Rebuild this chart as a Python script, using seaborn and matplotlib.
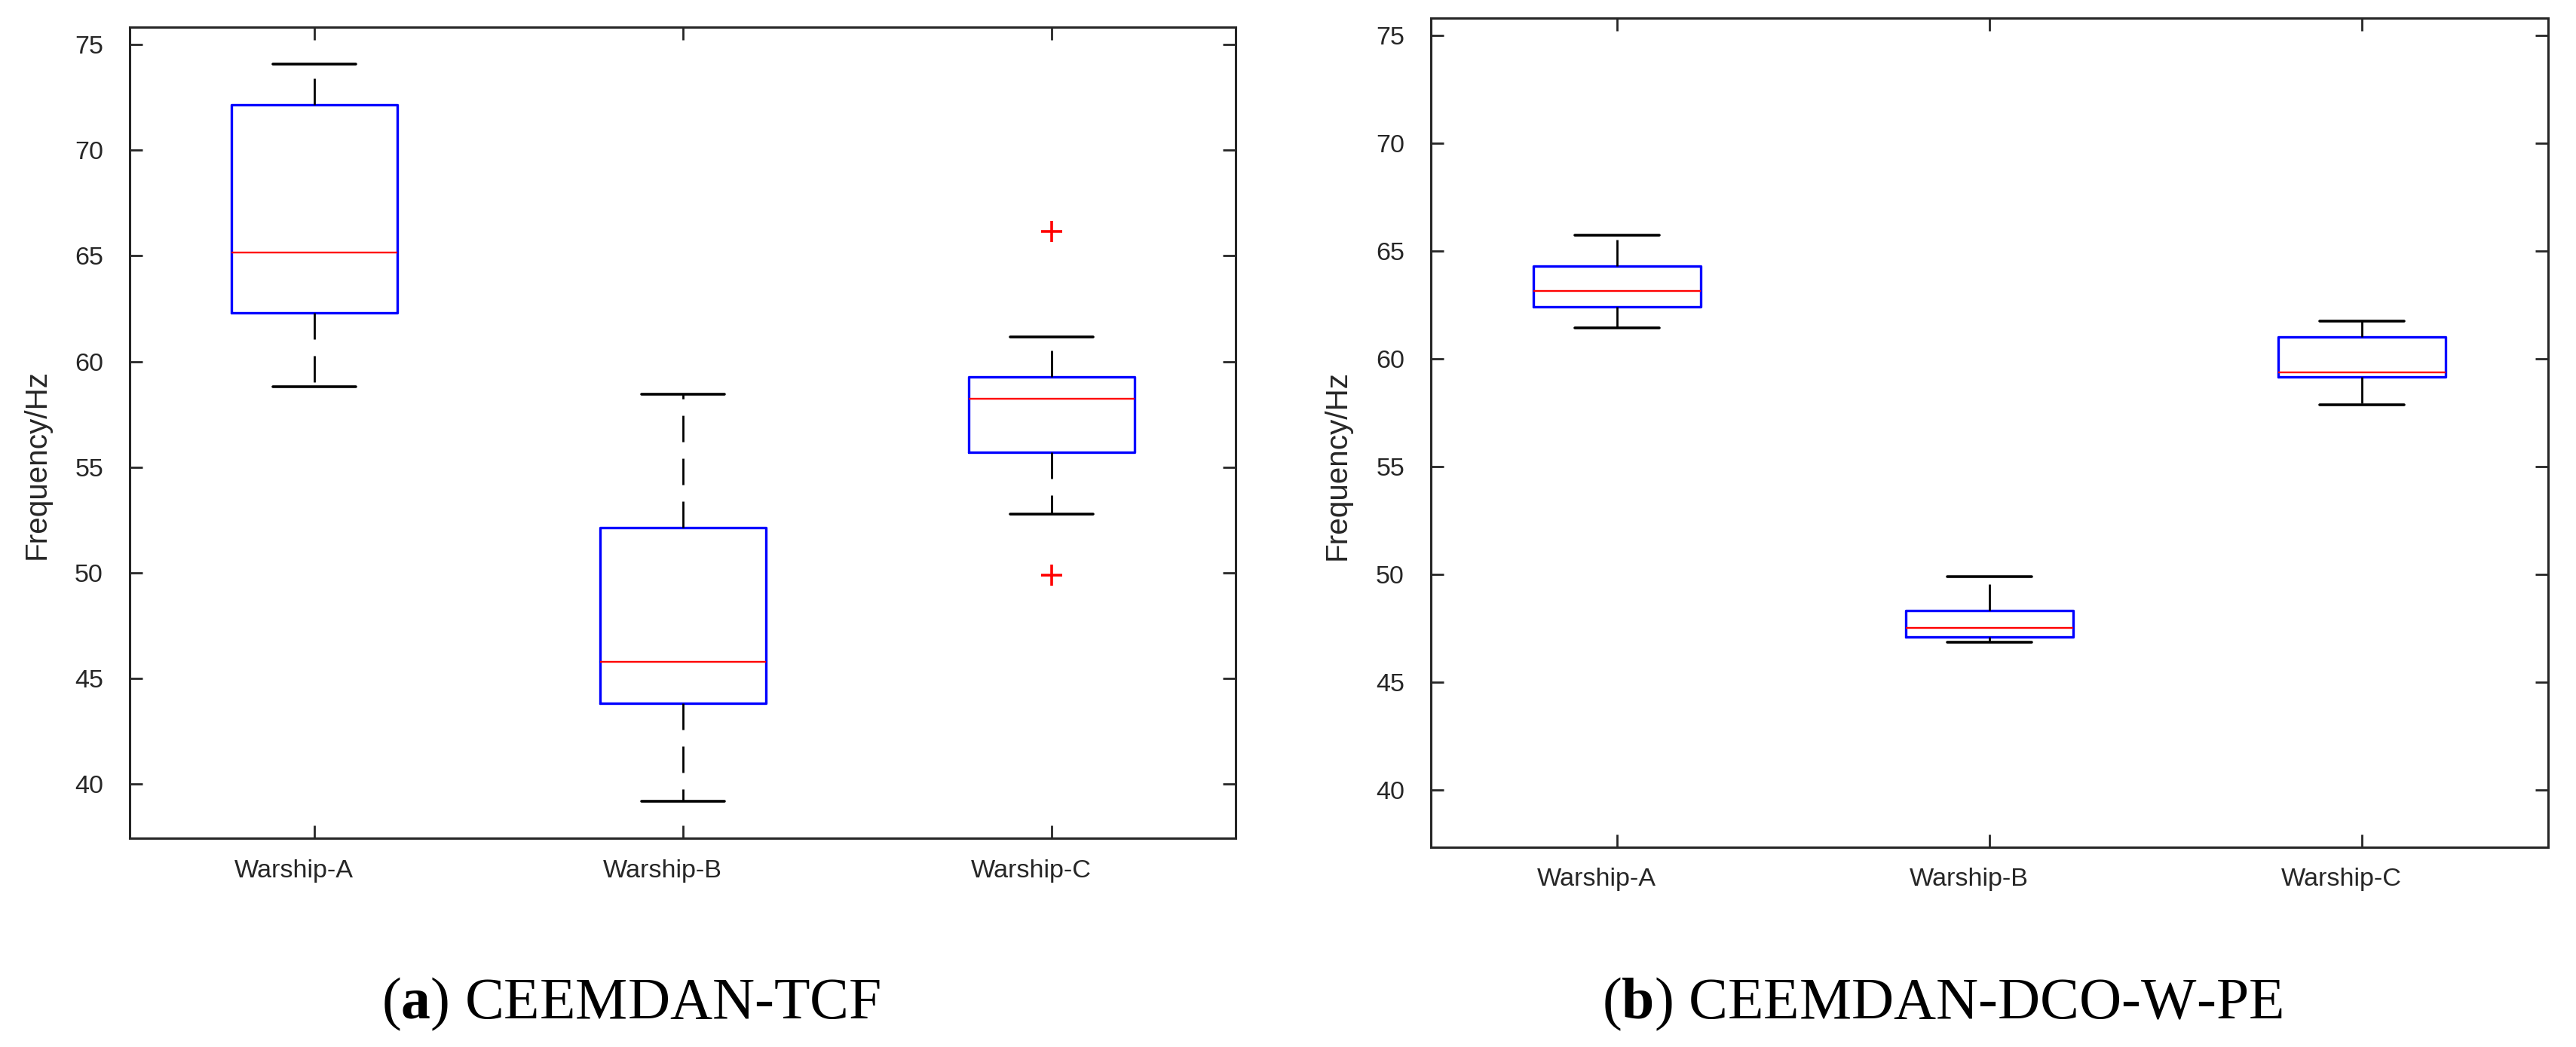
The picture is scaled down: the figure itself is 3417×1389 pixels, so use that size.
import numpy as np
import pandas as pd
import seaborn as sns
import matplotlib.pyplot as plt
from matplotlib.transforms import ScaledTranslation


# Categories
ships = ['Warship-A', 'Warship-B', 'Warship-C']

# (a) CEEMDAN-TCF - values (min, q1, median, q3, max + outliers)
tcf_a = [58.82, 62.30, 65.17, 72.15, 74.08]
tcf_b = [39.21, 43.82, 45.78, 52.15, 58.45]
tcf_c = [49.91, 52.78, 55.71, 57.00, 58.24, 58.80, 59.29, 61.15, 66.14]

# (b) CEEMDAN-DCO-W-PE
dco_a = [61.43, 62.43, 63.15, 64.32, 65.73]
dco_b = [46.84, 47.09, 47.53, 48.32, 49.88]
dco_c = [57.87, 59.15, 59.38, 61.02, 61.76]

yticks = [40, 45, 50, 55, 60, 65, 70, 75]
captions = [r'($\mathbf{a}$) CEEMDAN-TCF', r'($\mathbf{b}$) CEEMDAN-DCO-W-PE']


def to_long(a, b, c):
    return pd.DataFrame({'ship': [ships[0]] * len(a) + [ships[1]] * len(b) + [ships[2]] * len(c),
                         'freq': a + b + c})


sns.set_style('white')
plt.rcParams['font.family'] = ['Liberation Sans', 'DejaVu Sans']
plt.rcParams['lines.scale_dashes'] = False
plt.rcParams['mathtext.fontset'] = 'custom'
plt.rcParams['mathtext.rm'] = 'Liberation Serif'
plt.rcParams['mathtext.bf'] = 'Liberation Serif:bold'

DPI = 200
fig = plt.figure(figsize=(3417 / DPI, 1389 / DPI), dpi=DPI)
ax1 = fig.add_axes([0.05034, 0.19942, 0.42941, 0.77487])
ax2 = fig.add_axes([0.55546, 0.19100, 0.43371, 0.79172])

panels = [(ax1, to_long(tcf_a, tcf_b, tcf_c), (37.45, 75.83), (-0.0709, 0.461)),
          (ax2, to_long(dco_a, dco_b, dco_c), (37.35, 75.81), (-0.0711, 0.461))]

shift = ScaledTranslation(-27 / DPI, 0, fig.dpi_scale_trans)

for ax, df, ylim, lblpos in panels:
    sns.boxplot(data=df, x='ship', y='freq', order=ships, ax=ax, width=0.45,
                fill=False, linecolor='blue', whis=1.5,
                boxprops=dict(color='blue', linewidth=1.2),
                medianprops=dict(color='red', linewidth=0.85),
                whiskerprops=dict(color='black', linewidth=1.0, linestyle=(0, (12.6, 7.9))),
                capprops=dict(color='black', linewidth=1.3),
                flierprops=dict(marker='+', markeredgecolor='red', markerfacecolor='red',
                                markersize=10, markeredgewidth=1.3))
    ax.set_xlim(-0.5, 2.5)
    ax.set_ylim(*ylim)
    ax.set_yticks(yticks)
    ax.set_xlabel('')
    ax.set_ylabel('Frequency/Hz', fontsize=14.6, color='#262626')
    ax.yaxis.set_label_coords(*lblpos)
    for s in ax.spines.values():
        s.set_visible(True)
        s.set_color('#262626')
        s.set_linewidth(1.1)
    ax.tick_params(axis='both', which='both', direction='in', length=6.1, width=1.0,
                   bottom=True, left=True, top=True, right=True,
                   colors='#262626', labelsize=12.3)
    ax.tick_params(axis='x', pad=10)
    ax.tick_params(axis='y', pad=12.6)
    for lab in ax.get_xticklabels():
        lab.set_transform(lab.get_transform() + shift)

fig.text(0.245, 0.0268, captions[0], family='Liberation Serif', fontsize=28,
         ha='center', va='baseline', color='black')
fig.text(0.754, 0.0268, captions[1], family='Liberation Serif', fontsize=28,
         ha='center', va='baseline', color='black')

fig.savefig('out.png', dpi=DPI)
